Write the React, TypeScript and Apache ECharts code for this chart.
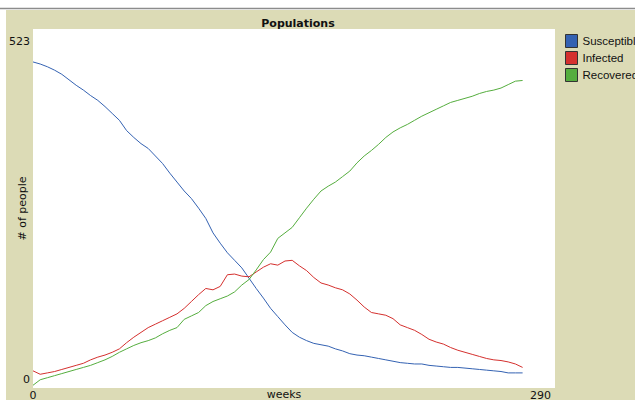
import React, { useEffect, useRef } from "react";
import * as echarts from "echarts";

// Time axis (weeks) shared by all three populations
const weeks = [
  0, 4, 8, 12, 16, 20, 24, 28, 32, 36, 40, 44, 48, 52, 56, 60, 64, 68, 72, 76,
  80, 84, 88, 92, 96, 100, 104, 108, 112, 116, 120, 124, 128, 132, 136, 140,
  144, 148, 152, 156, 160, 164, 168, 172, 176, 180, 184, 188, 192, 196, 200,
  204, 208, 212, 216, 220, 224, 228, 232, 236, 240, 244, 248, 252, 256, 260,
  264, 268, 272,
];

const susceptible = [
  475, 472, 468, 463, 457, 449, 441, 434, 426, 419, 410, 400, 390, 375, 365,
  356, 349, 338, 327, 313, 300, 287, 276, 262, 247, 226, 211, 197, 186, 175,
  160, 145, 131, 116, 104, 92, 81, 74, 69, 65, 63, 61, 57, 54, 50, 48, 47, 45,
  43, 41, 39, 37, 36, 35, 35, 33, 32, 31, 30, 30, 29, 28, 27, 26, 25, 24, 22,
  22, 22,
];

const infected = [
  25, 20, 22, 24, 27, 30, 33, 36, 41, 45, 48, 52, 57, 66, 74, 81, 88, 93, 98,
  103, 108, 116, 126, 136, 145, 143, 148, 165, 166, 163, 162, 169, 176, 181,
  179, 185, 186, 178, 171, 161, 153, 150, 146, 143, 137, 128, 118, 110, 108,
  106, 101, 92, 88, 84, 78, 71, 67, 64, 59, 55, 52, 49, 46, 43, 41, 40, 38, 35,
  30,
];

const recovered = [
  4, 12, 15, 18, 21, 24, 27, 30, 33, 37, 41, 46, 52, 57, 62, 66, 69, 73, 79,
  84, 88, 100, 105, 110, 120, 126, 130, 134, 140, 150, 158, 172, 187, 198, 218,
  226, 234, 248, 262, 275, 287, 294, 300, 308, 316, 328, 338, 346, 355, 365,
  373, 379, 384, 390, 396, 401, 406, 411, 416, 419, 422, 425, 429, 432, 434,
  437, 442, 447, 448,
];

const seriesNames = ["Susceptible", "Infected", "Recovered"];
const seriesColors = ["#3462b2", "#d4302e", "#55ad3e"];
const xTickLabels = ["0", "290"];
const yTickLabels = ["0", "523"];
const xMax = 290;
const yMax = 523;

const FONT = "DejaVu Sans";
const LEGEND_FONT = "Liberation Sans";

export default function App() {
  const ref = useRef<HTMLDivElement>(null);

  useEffect(() => {
    if (!ref.current) return;
    const chart = echarts.init(ref.current, undefined, { renderer: "svg" });
    const values = [susceptible, infected, recovered];

    chart.setOption({
      animation: false,
      backgroundColor: "#ffffff",
      graphic: [
        {
          type: "rect",
          z: -100,
          shape: { x: 6, y: 10, width: 629, height: 390 },
          style: { fill: "#dcdbb6" },
        },
        {
          type: "line",
          z: -99,
          shape: { x1: 0, y1: 8.5, x2: 635, y2: 8.5 },
          style: { stroke: "#8c8c8c", lineWidth: 1.5 },
        },
      ],
      title: {
        text: "Populations",
        left: 293,
        top: 13,
        textAlign: "center",
        textStyle: {
          fontFamily: FONT,
          fontSize: 11,
          fontWeight: "bold",
          color: "#111",
        },
      },
      legend: {
        orient: "vertical",
        left: 560,
        top: 29,
        itemWidth: 12,
        itemHeight: 13,
        itemGap: 3,
        icon: "rect",
        itemStyle: { borderColor: "#333", borderWidth: 1 },
        textStyle: { fontFamily: LEGEND_FONT, fontSize: 11.5, color: "#111" },
        data: seriesNames,
      },
      grid: {
        left: 33,
        top: 29,
        width: 522,
        height: 359,
        outerBoundsMode: "none",
        containLabel: false,
        show: true,
        backgroundColor: "#ffffff",
        borderWidth: 0,
      },
      xAxis: {
        type: "value",
        min: 0,
        max: xMax,
        interval: xMax,
        name: "weeks",
        nameLocation: "middle",
        nameGap: 1,
        nameMoveOverlap: false,
        nameTextStyle: {
          fontFamily: FONT,
          fontSize: 11,
          color: "#111",
          verticalAlign: "top",
          padding: [0, 20, 0, 0],
        },
        axisLine: { show: false },
        axisTick: { show: false },
        splitLine: { show: false },
        axisLabel: {
          margin: 2,
          fontFamily: FONT,
          fontSize: 11,
          color: "#111",
          alignMaxLabel: "right",
          formatter: (v: number) =>
            v === 0 ? xTickLabels[0] : `{r|${xTickLabels[1]}}`,
          rich: { r: { padding: [0, 4, 0, 0], fontFamily: FONT, fontSize: 11, color: "#111" } },
        },
      },
      yAxis: {
        type: "value",
        min: 0,
        max: yMax,
        interval: yMax,
        name: "# of people",
        nameLocation: "middle",
        nameGap: 5,
        nameMoveOverlap: false,
        nameTextStyle: { fontFamily: FONT, fontSize: 11, color: "#111" },
        axisLine: { show: false },
        axisTick: { show: false },
        splitLine: { show: false },
        axisLabel: {
          margin: 3,
          formatter: (v: number) =>
            v === 0 ? `{lo|${yTickLabels[0]}}` : `{hi|${yTickLabels[1]}}`,
          rich: {
            hi: { padding: [24, 0, 0, 0], fontFamily: FONT, fontSize: 11, color: "#111" },
            lo: { padding: [0, 0, 18, 0], fontFamily: FONT, fontSize: 11, color: "#111" },
          },
        },
      },
      series: seriesNames.map((name, i) => ({
        name,
        type: "line",
        showSymbol: false,
        color: seriesColors[i],
        lineStyle: { width: 1, color: seriesColors[i] },
        data: weeks.map((w, j) => [w, values[i][j]]),
      })),
    });

    return () => chart.dispose();
  }, []);

  return (
    <div
      ref={ref}
      style={{ position: "fixed", left: 0, top: 0, width: 635, height: 400 }}
    />
  );
}
